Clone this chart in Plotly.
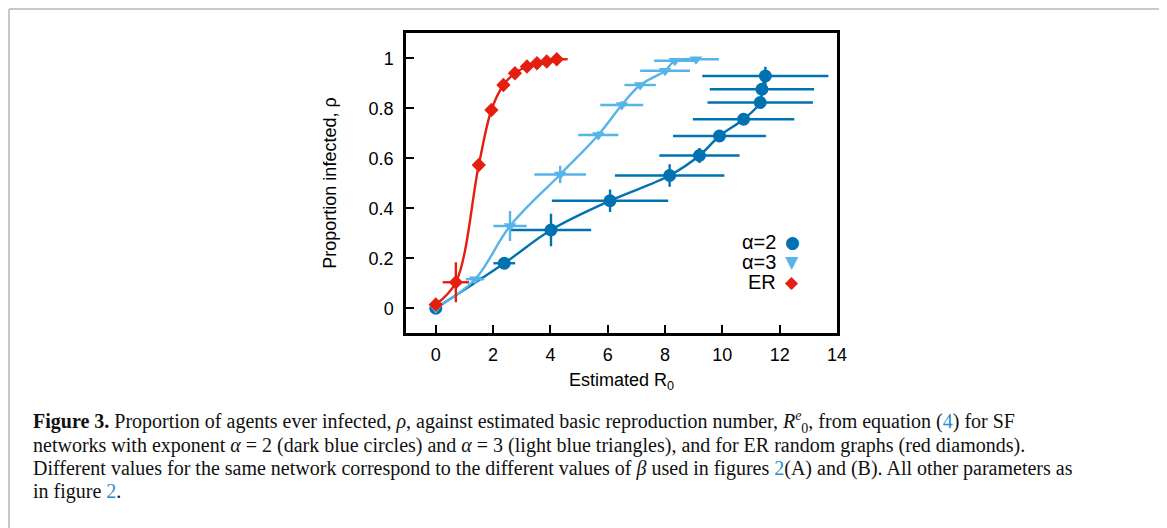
import plotly.graph_objects as go

# ---------------- data ----------------
# SF network, alpha = 2 (dark blue circles)
a2_x = [0.0, 2.39, 4.02, 6.08, 8.16, 9.20, 9.90, 10.74, 11.32, 11.38, 11.50]
a2_y = [0.0, 0.180, 0.313, 0.430, 0.531, 0.611, 0.689, 0.756, 0.823, 0.876, 0.929]
a2_xerr = [0.05, 0.38, 1.40, 2.03, 1.91, 1.40, 1.62, 1.77, 1.84, 1.82, 2.20]
a2_yerr = [0.005, 0.010, 0.065, 0.045, 0.045, 0.030, 0.010, 0.010, 0.015, 0.010, 0.037]

# SF network, alpha = 3 (light blue triangles)
a3_x = [0.0, 1.37, 2.59, 4.34, 5.67, 6.49, 7.13, 8.00, 8.34, 9.08]
a3_y = [0.0, 0.116, 0.329, 0.535, 0.693, 0.813, 0.893, 0.950, 0.990, 0.996]
a3_xerr = [0.05, 0.32, 0.58, 0.90, 0.70, 0.75, 0.55, 0.87, 0.72, 0.80]
a3_yerr = [0.005, 0.010, 0.060, 0.035, 0.015, 0.015, 0.010, 0.010, 0.010, 0.005]

# ER random graphs (red diamonds)
er_x = [0.0, 0.70, 1.50, 1.94, 2.36, 2.76, 3.18, 3.53, 3.87, 4.22]
er_y = [0.015, 0.104, 0.573, 0.793, 0.893, 0.940, 0.967, 0.980, 0.987, 0.996]
er_xerr = [0.05, 0.46, 0.10, 0.10, 0.15, 0.15, 0.20, 0.20, 0.25, 0.38]
er_yerr = [0.010, 0.080, 0.010, 0.010, 0.010, 0.005, 0.005, 0.005, 0.005, 0.005]

x_ticks = [0, 2, 4, 6, 8, 10, 12, 14]
y_ticks = [0, 0.2, 0.4, 0.6, 0.8, 1]
y_tick_labels = ["0", "0.2", "0.4", "0.6", "0.8", "1"]

legend_labels = ["α=2", "α=3", "ER"]
legend_symbols = ["●", "▼", "◆"]

# ---------------- style ----------------
DARK = "#0072b2"
LIGHT = "#56b4e9"
RED = "#e51e10"
SANS = "Liberation Sans, Arial, sans-serif"
SERIF = "Liberation Serif, Times New Roman, serif"

OFF = 8  # default page body margin
W, H = 1167 - OFF, 528 - OFF
L, R, T, B = 406 - OFF, 837 - OFF, 33 - OFF, 333 - OFF


def px2x(px):
    # px given in window coordinates
    return (px - OFF - L) / (R - L)


def py2y(py):
    return (B - (py - OFF)) / (B - T)


fig = go.Figure()


def add_series(xs, ys, xe, ye, color, symbol, size):
    fig.add_trace(go.Scatter(
        x=xs, y=ys, mode="lines+markers",
        line=dict(color=color, width=2.4, shape="spline", smoothing=1.0),
        marker=dict(color=color, symbol=symbol, size=size, line=dict(width=0)),
        error_x=dict(type="data", array=xe, color=color, thickness=2.4, width=0),
        error_y=dict(type="data", array=ye, color=color, thickness=2.4, width=0),
        showlegend=False, cliponaxis=False,
    ))


add_series(a2_x, a2_y, a2_xerr, a2_yerr, DARK, "circle", 13)
add_series(a3_x, a3_y, a3_xerr, a3_yerr, LIGHT, "triangle-down", 11)
add_series(er_x, er_y, er_xerr, er_yerr, RED, "diamond", 11)

annotations = []
# legend (text right, symbol at the right side)
leg_colors = [DARK, LIGHT, RED]
leg_rows = [242, 262, 282]
for lab, sym, col, py in zip(legend_labels, legend_symbols, leg_colors, leg_rows):
    annotations.append(dict(x=px2x(778), y=py2y(py), xref="paper", yref="paper",
                            text=lab, showarrow=False, xanchor="right", yanchor="middle",
                            font=dict(family=SANS, size=20, color="black")))
    annotations.append(dict(x=px2x(792), y=py2y(py), xref="paper", yref="paper",
                            text=sym, showarrow=False, xanchor="center", yanchor="middle",
                            font=dict(family="DejaVu Sans", size=17, color=col)))

LINK = "#2b8ccc"
caption_lines = [
    "<b>Figure 3.</b> Proportion of agents ever infected, <i>ρ</i>, against estimated basic reproduction number, "
    "<i>R</i><sup><i>e</i></sup><sub>0</sub>, from equation (<span style='color:%s'>4</span>) for SF" % LINK,
    "networks with exponent <i>α</i> = 2 (dark blue circles) and <i>α</i> = 3 (light blue triangles), and for ER random graphs (red diamonds).",
    "Different values for the same network correspond to the different values of <i>β</i> used in figures "
    "<span style='color:%s'>2</span>(A) and (B). All other parameters as" % LINK,
    "in figure <span style='color:%s'>2</span>." % LINK,
]
cap_rows = [422, 445, 468, 491]
for txt, py in zip(caption_lines, cap_rows):
    annotations.append(dict(x=px2x(31), y=py2y(py), xref="paper", yref="paper",
                            text=txt, showarrow=False, xanchor="left", yanchor="middle",
                            font=dict(family=SERIF, size=20, color="#111111")))

BORDER = "#c8c8c8"
shapes = [
    dict(type="line", xref="paper", yref="paper", x0=px2x(OFF + 1), x1=px2x(1161.5),
         y0=py2y(OFF + 1), y1=py2y(OFF + 1), line=dict(color=BORDER, width=2)),
    dict(type="line", xref="paper", yref="paper", x0=px2x(OFF + 1), x1=px2x(OFF + 1),
         y0=py2y(OFF + 1), y1=py2y(535), line=dict(color=BORDER, width=2)),
    dict(type="line", xref="paper", yref="paper", x0=px2x(1161.5), x1=px2x(1161.5),
         y0=py2y(OFF + 1), y1=py2y(535), line=dict(color=BORDER, width=2)),
]

fig.update_layout(
    width=W, height=H,
    margin=dict(l=L, r=W - R, t=T, b=H - B, autoexpand=False),
    paper_bgcolor="white", plot_bgcolor="white",
    font=dict(family=SANS, size=18, color="black"),
    annotations=annotations, shapes=shapes,
    xaxis=dict(
        range=[-1.04, 14.0], tickvals=x_ticks, ticktext=[str(v) for v in x_ticks],
        ticks="inside", ticklen=8, tickwidth=1.5, tickcolor="black",
        showline=True, linecolor="black", linewidth=2.5, mirror=True,
        showgrid=False, zeroline=False, ticklabelstandoff=4,
        tickfont=dict(family=SANS, size=18),
        title=dict(text="Estimated R<sub>0</sub>", font=dict(family=SANS, size=18), standoff=10),
    ),
    yaxis=dict(
        range=[-0.099, 1.101], tickvals=y_ticks, ticktext=y_tick_labels,
        ticks="inside", ticklen=8, tickwidth=1.5, tickcolor="black",
        showline=True, linecolor="black", linewidth=2.5, mirror=True,
        showgrid=False, zeroline=False, ticklabelstandoff=6,
        tickfont=dict(family=SANS, size=18),
        title=dict(text="Proportion infected, ρ", font=dict(family=SANS, size=18), standoff=28),
    ),
)

fig.write_html("out.html")
